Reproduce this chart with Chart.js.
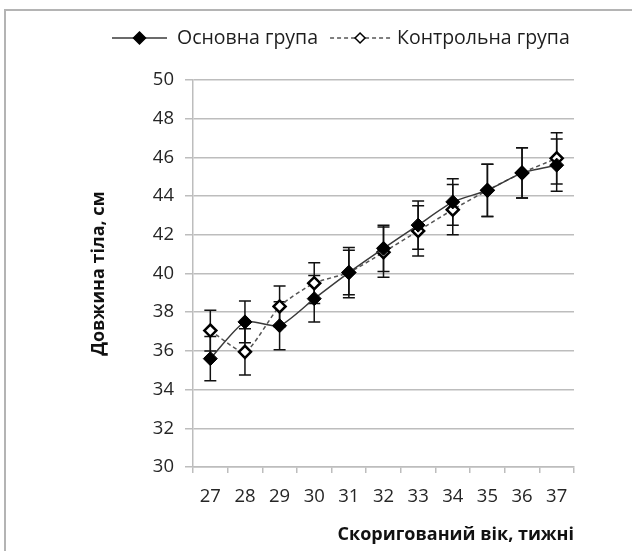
<!DOCTYPE html>
<html>
<head>
<meta charset="utf-8">
<script src="https://cdn.jsdelivr.net/npm/chart.js@4"></script>
<style>
    html, body { margin: 0; padding: 0; background: #fff; }
    #wrap { position: relative; width: 632px; height: 551px; overflow: hidden; }
    #frame { position: absolute; left: 4px; top: 9px; width: 700px; height: 700px;
             border-top: 2px solid #b4b4b4; border-left: 2px solid #b4b4b4; }
    #chart { position: absolute; left: 0; top: 0; }
</style>
</head>
<body>
<div id="wrap">
    <div id="frame"></div>
    <canvas id="chart" width="632" height="551"></canvas>
</div>
<script>
// Chart data
const weeks = ['27', '28', '29', '30', '31', '32', '33', '34', '35', '36', '37'];
const mainGroup = [35.6, 37.5, 37.3, 38.7, 40.05, 41.3, 42.5, 43.7, 44.3, 45.2, 45.6];
const mainErr = [1.14, 1.08, 1.24, 1.2, 1.15, 1.2, 1.25, 1.2, 1.35, 1.3, 1.35];
const controlGroup = [37.05, 35.95, 38.3, 39.5, 40.05, 41.1, 42.2, 43.3, 44.3, 45.2, 45.95];
const controlErr = [1.05, 1.2, 1.05, 1.05, 1.3, 1.3, 1.3, 1.3, 1.35, 1.3, 1.33];
const yTicks = [30, 32, 34, 36, 38, 40, 42, 44, 46, 48, 50];

const FONT = '"Open Sans", "DejaVu Sans", sans-serif';
const gridColor = '#bdbdbd';

// Error bars, drawn under the lines and markers
const errorBars = {
    id: 'errorBars',
    beforeDatasetsDraw(chart) {
        const ctx = chart.ctx;
        const yScale = chart.scales.y;
        ctx.save();
        ctx.strokeStyle = '#111';
        ctx.lineWidth = 1.5;
        chart.data.datasets.forEach((ds, i) => {
            const meta = chart.getDatasetMeta(i);
            meta.data.forEach((pt, j) => {
                const v = ds.data[j], e = ds.errors[j];
                const top = yScale.getPixelForValue(v + e);
                const bot = yScale.getPixelForValue(v - e);
                ctx.beginPath();
                ctx.moveTo(pt.x, top); ctx.lineTo(pt.x, bot);
                ctx.moveTo(pt.x - 6, top); ctx.lineTo(pt.x + 6, top);
                ctx.moveTo(pt.x - 6, bot); ctx.lineTo(pt.x + 6, bot);
                ctx.stroke();
            });
        });
        ctx.restore();
    }
};

// Legend with line + marker samples
function diamond(ctx, x, y, r, fill) {
    ctx.beginPath();
    ctx.moveTo(x, y - r); ctx.lineTo(x + r, y); ctx.lineTo(x, y + r); ctx.lineTo(x - r, y);
    ctx.closePath();
    ctx.fillStyle = fill;
    ctx.fill();
    ctx.lineWidth = 1.5;
    ctx.strokeStyle = '#000';
    ctx.stroke();
}

const lineLegend = {
    id: 'lineLegend',
    afterDraw(chart) {
        const ctx = chart.ctx;
        const y = 38;
        let x = 112;
        ctx.save();
        ctx.font = '19.5px ' + FONT;
        ctx.textBaseline = 'middle';
        chart.data.datasets.forEach((ds, i) => {
            const len = i === 0 ? 55 : 60;
            ctx.strokeStyle = ds.borderColor;
            ctx.lineWidth = 1.5;
            ctx.setLineDash(ds.borderDash || []);
            ctx.beginPath();
            ctx.moveTo(x, y); ctx.lineTo(x + len, y);
            ctx.stroke();
            ctx.setLineDash([]);
            diamond(ctx, x + len / 2, y, i === 0 ? 6 : 5, ds.pointBackgroundColor);
            x += len + (i === 0 ? 10 : 7);
            ctx.fillStyle = '#1e1e1e';
            ctx.fillText(ds.label, x, y);
            x += ctx.measureText(ds.label).width + 12;
        });
        ctx.restore();
    }
};

new Chart(document.getElementById('chart').getContext('2d'), {
    type: 'line',
    data: {
        labels: weeks,
        datasets: [{
            label: 'Основна група',
            data: mainGroup,
            errors: mainErr,
            borderColor: '#3a3a3a',
            borderWidth: 1.5,
            tension: 0.2,
            pointStyle: 'rectRot',
            pointRadius: 7,
            pointBackgroundColor: '#000',
            pointBorderColor: '#000',
            pointBorderWidth: 1
        }, {
            label: 'Контрольна група',
            data: controlGroup,
            errors: controlErr,
            borderColor: '#555',
            borderWidth: 1.5,
            borderDash: [4, 3],
            tension: 0.2,
            pointStyle: 'rectRot',
            pointRadius: 6,
            pointBackgroundColor: '#fff',
            pointBorderColor: '#000',
            pointBorderWidth: 2.5
        }]
    },
    options: {
        responsive: false,
        animation: false,
        layout: { padding: { left: 88, right: 58, top: 80, bottom: 5 } },
        plugins: {
            legend: { display: false },
            tooltip: { enabled: false }
        },
        scales: {
            x: {
                offset: true,
                afterFit(scale) { scale.height = 79; },
                grid: { offset: true, drawOnChartArea: false, tickLength: 6, color: gridColor, lineWidth: 1.5 },
                border: { color: gridColor, width: 1.5 },
                ticks: { color: '#262626', padding: 13, font: { family: FONT, size: 18.5 } },
                title: {
                    display: true, align: 'end', text: 'Скоригований вік, тижні',
                    color: '#111', font: { family: FONT, size: 18, weight: 'bold' }, padding: 0
                }
            },
            y: {
                min: 30,
                max: 50,
                afterFit(scale) { scale.width = 105; },
                afterBuildTicks(scale) { scale.ticks = yTicks.map(v => ({ value: v })); },
                grid: { color: gridColor, lineWidth: 1.5, tickLength: 8 },
                border: { color: gridColor, width: 1.5 },
                ticks: { color: '#262626', padding: 11, font: { family: FONT, size: 18.5 } },
                title: {
                    display: true, text: 'Довжина тіла, см',
                    color: '#111', font: { family: FONT, size: 18, weight: 'bold' }, padding: 0
                }
            }
        }
    },
    plugins: [errorBars, lineLegend]
});
</script>
</body>
</html>
